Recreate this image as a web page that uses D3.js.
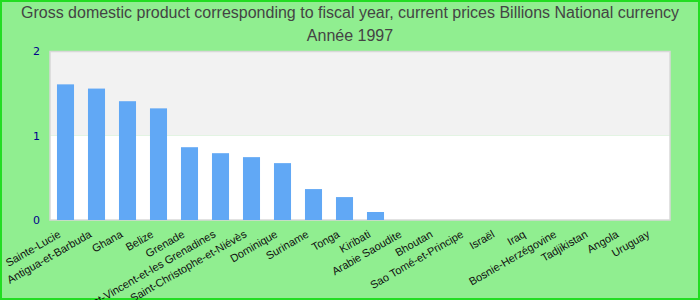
<!DOCTYPE html>
<html>
<head>
<meta charset="utf-8">
<script src="https://cdn.jsdelivr.net/npm/d3@7"></script>
<style>
  html, body { margin: 0; padding: 0; background: #90ee90; }
  svg { display: block; }
</style>
</head>
<body>
<div id="chart"></div>
<script>
const countries = ['Sainte-Lucie', 'Antigua-et-Barbuda', 'Ghana', 'Belize', 'Grenade',
  'Saint-Vincent-et-les Grenadines', 'Saint-Christophe-et-Niévès', 'Dominique', 'Suriname',
  'Tonga', 'Kiribati', 'Arabie Saoudite', 'Bhoutan', 'Sao Tomé-et-Principe', 'Israël', 'Iraq',
  'Bosnie-Herzégovine', 'Tadjikistan', 'Angola', 'Uruguay'];
const gdp = [1.61, 1.56, 1.41, 1.325, 0.864, 0.793, 0.746, 0.675, 0.367, 0.272, 0.095,
  0, 0, 0, 0, 0, 0, 0, 0, 0];
const yTicks = [0, 1, 2];
const titleLines = ['Gross domestic product corresponding to fiscal year, current prices Billions National currency', 'Année 1997'];

const W = 700, H = 300;
const margin = { top: 51.5, right: 30, bottom: 80, left: 50 };
const iW = W - margin.left - margin.right;
const iH = H - margin.top - margin.bottom;

const svg = d3.select('#chart').append('svg').attr('width', W).attr('height', H);

svg.append('rect').attr('x', 1).attr('y', 1).attr('width', W - 2).attr('height', H - 2)
  .attr('fill', '#90ee90').attr('stroke', '#22dd22').attr('stroke-width', 2);

svg.selectAll('.title').data(titleLines).join('text')
  .attr('x', W / 2).attr('y', (d, i) => 18 + i * 23)
  .attr('text-anchor', 'middle').attr('font-family', 'Liberation Sans Narrow, Liberation Sans, Arial, sans-serif')
  .attr('font-size', '16px').attr('fill', '#444').text(d => d);

const g = svg.append('g').attr('transform', `translate(${margin.left},${margin.top})`);

const x = d3.scaleBand().domain(countries).range([0, iW]).paddingInner(0.45).paddingOuter(0.225);
const y = d3.scaleLinear().domain([0, 2]).range([iH, 0]);

// alternating bands
g.append('rect').attr('x', 0).attr('y', y(2)).attr('width', iW).attr('height', y(1) - y(2)).attr('fill', '#f2f2f2');
g.append('rect').attr('x', 0).attr('y', y(1)).attr('width', iW).attr('height', y(0) - y(1)).attr('fill', '#ffffff');
g.append('rect').attr('x', 0).attr('y', 0).attr('width', iW).attr('height', iH)
  .attr('fill', 'none').attr('stroke', '#d8d8d8').attr('stroke-width', 1.5);

g.selectAll('.bar').data(countries).join('rect')
  .attr('x', d => x(d)).attr('width', x.bandwidth())
  .attr('y', (d, i) => y(gdp[i])).attr('height', (d, i) => iH - y(gdp[i]))
  .attr('fill', '#61a8f5');

g.selectAll('.yl').data(yTicks).join('text')
  .attr('x', -10).attr('y', d => y(d)).attr('dy', '0.35em')
  .attr('text-anchor', 'end').attr('font-family', 'DejaVu Sans, sans-serif')
  .attr('font-size', '11px').attr('fill', '#00008b').text(d => d);

g.selectAll('.xl').data(countries).join('text')
  .attr('transform', d => `translate(${x(d) + x.bandwidth() / 2 - 6},${iH + 13}) rotate(-30)`)
  .attr('text-anchor', 'end').attr('dy', '0.35em')
  .attr('font-family', 'Liberation Sans, Arial, sans-serif')
  .attr('font-size', '11px').attr('fill', '#111').text(d => d);
</script>
</body>
</html>
